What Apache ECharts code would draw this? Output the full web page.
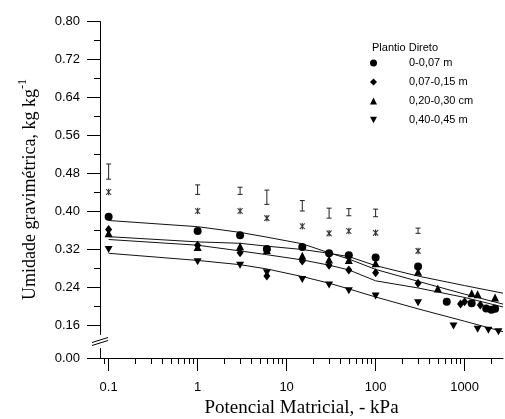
<!DOCTYPE html>
<html><head><meta charset="utf-8">
<script src="https://cdn.jsdelivr.net/npm/echarts@6/dist/echarts.min.js"></script>
<style>html,body{margin:0;padding:0;background:#fff}#c{width:505px;height:419px}</style>
</head><body><div id="c"></div>
<script>
// ---- data ----
const seriesNames = ['0-0,07 m', '0,07-0,15 m', '0,20-0,30 cm', '0,40-0,45 m'];
const circleData = [[0.1,0.388],[1,0.358],[3,0.349],[6,0.320],[15,0.324],[30,0.311],[50,0.307],[100,0.302],[300,0.283],[630,0.209],[1200,0.206],[1750,0.195],[2000,0.192],[2200,0.194]];
const diamondData = [[0.1,0.361],[1,0.328],[3,0.312],[6,0.263],[15,0.295],[30,0.286],[50,0.276],[100,0.270],[300,0.248],[900,0.204],[1000,0.209],[1500,0.202]];
const triangleData = [[0.1,0.353],[1,0.324],[3,0.326],[6,0.318],[15,0.306],[30,0.298],[50,0.297],[100,0.290],[300,0.272],[500,0.237],[1200,0.227],[1400,0.225],[2200,0.218]];
const downData = [[0.1,0.319],[1,0.293],[3,0.286],[6,0.270],[15,0.256],[30,0.244],[50,0.232],[100,0.221],[300,0.207],[750,0.158],[1400,0.151],[1850,0.149],[2400,0.146]];

const curveP = [0.1, 1, 3, 6, 15, 30, 50, 100, 300, 1000, 2700];
const curveCircle   = [0.380,0.367,0.355,0.345,0.331,0.312,0.299,0.277,0.252,0.225,0.204];
const curveDiamond  = [0.340,0.328,0.316,0.308,0.297,0.286,0.276,0.253,0.238,0.218,0.198];
const curveTriangle = [0.346,0.335,0.332,0.326,0.319,0.311,0.304,0.285,0.263,0.243,0.227];
const curveDown     = [0.311,0.296,0.287,0.278,0.262,0.248,0.236,0.219,0.194,0.168,0.146];

const sigP = [0.1, 1, 3, 6, 15, 30, 50, 100, 300];
const starVals = [0.440,0.400,0.400,0.385,0.368,0.353,0.358,0.354,0.316];
const barLow  = [0.467,0.435,0.435,0.414,0.400,0.385,0.390,0.388,0.353];
const barHigh = [0.499,0.455,0.450,0.444,0.422,0.406,0.405,0.404,0.364];

const xMajor = [0.1, 1, 10, 100, 1000];
const xMinor = [0.09,0.2,0.3,0.4,0.5,0.6,0.7,0.8,0.9,2,3,4,5,6,7,8,9,20,30,40,50,60,70,80,90,200,300,400,500,600,700,800,900,2000];
const yMajor = [0, 0.16, 0.24, 0.32, 0.40, 0.48, 0.56, 0.64, 0.72, 0.80];
const yMinor = [0.20, 0.28, 0.36, 0.44, 0.52, 0.60, 0.68, 0.76];

// ---- chart ----
const sans = "'Liberation Sans', Arial, sans-serif";
const serif = "'Liberation Serif', 'Times New Roman', serif";
const chart = echarts.init(document.getElementById('c'), null, {renderer:'canvas'});
const fmtX = v => String(Number(Number(v).toPrecision(6)));
const fmtY = v => Number(v).toFixed(2);
const zip = (xs, ys) => xs.map((x, i) => [x, ys[i]]);
const downTri = 'path://M0,0L10,0L5,9Z';
const star = 'path://M-0.6,-5L-0.6,5L0.6,5L0.6,-5Z M1.98,4.72L3.02,4.12L-1.98,-4.72L-3.02,-4.12Z M-3.02,4.12L-1.98,4.72L3.02,-4.12L1.98,-4.72Z';
const black = '#000';
const yBreaks = [{start:0.02, end:0.14, gap:'4.15%'}];
const lineSeries = (data) => ({type:'line', data, showSymbol:false, symbol:'none', smooth:false,
  lineStyle:{color:'#111', width:1}, z:2, silent:true});
const scatter = (name, data, symbol, size) => ({type:'scatter', name, data, symbol, symbolSize:size,
  itemStyle:{color:black, opacity:1}, z:5});

chart.setOption({
  animation:false,
  grid:{left:100, right:2, top:21, bottom:61, containLabel:false, outerBoundsMode:'none'},
  title:{text:'Plantio Direto', left:372, top:42, padding:0,
    textStyle:{fontSize:11, fontWeight:'normal', fontFamily:sans, color:black}},
  legend:{orient:'vertical', left:370, top:57, padding:0, itemWidth:7, itemHeight:7, itemGap:7,
    data:seriesNames, selectedMode:false,
    textStyle:{fontSize:11, fontFamily:sans, color:black, padding:[0,0,0,27], lineHeight:12}},
  xAxis:[{
    type:'log', logBase:10, min:0.08, max:2700,
    axisLine:{show:true, lineStyle:{color:black, width:1}},
    axisTick:{show:true, customValues:xMajor, length:13, lineStyle:{color:black}},
    axisLabel:{show:true, customValues:xMajor, formatter:fmtX, margin:23, fontSize:13, color:black, fontFamily:sans},
    splitLine:{show:false}, minorTick:{show:false},
    name:'Potencial Matricial, - kPa', nameLocation:'middle', nameGap:40,
    nameTextStyle:{fontSize:19, fontFamily:serif, color:black}
  },{
    type:'log', logBase:10, min:0.08, max:2700, position:'bottom',
    axisLine:{show:false},
    axisTick:{show:true, customValues:xMinor, length:6, lineStyle:{color:black}},
    axisLabel:{show:false}, splitLine:{show:false}
  }],
  yAxis:[{
    type:'value', min:0, max:0.8, interval:0.08,
    breaks:yBreaks,
    breakArea:{show:false, expandOnClick:false},
    axisLine:{show:true, lineStyle:{color:black, width:1}},
    axisTick:{show:true, customValues:yMajor, length:13, lineStyle:{color:black}},
    minorTick:{show:false},
    axisLabel:{customValues:yMajor, formatter:fmtY, margin:20, fontSize:13, color:black, fontFamily:sans},
    splitLine:{show:false},
    name:'{a|Umidade gravimétrica, kg kg}{s|-1}', nameLocation:'middle', nameGap:61, nameRotate:90,
    nameTextStyle:{rich:{
      a:{fontSize:18, fontFamily:serif, color:black, lineHeight:22, verticalAlign:'bottom'},
      s:{fontSize:12, fontFamily:serif, color:black, lineHeight:22, verticalAlign:'top'}
    }}
  },{
    type:'value', min:0, max:0.8, interval:0.08, position:'left',
    breaks:yBreaks,
    breakArea:{show:false, expandOnClick:false},
    axisLine:{show:false},
    axisTick:{show:true, customValues:yMinor, length:6, lineStyle:{color:black}},
    axisLabel:{show:false}, splitLine:{show:false}
  }],
  series:[
    lineSeries(zip(curveP, curveCircle)),
    lineSeries(zip(curveP, curveDiamond)),
    lineSeries(zip(curveP, curveTriangle)),
    lineSeries(zip(curveP, curveDown)),
    scatter(seriesNames[0], circleData, 'circle', 8),
    scatter(seriesNames[1], diamondData, 'diamond', [7,9]),
    scatter(seriesNames[2], triangleData, 'triangle', 8),
    scatter(seriesNames[3], downData, downTri, [8,7]),
    {type:'scatter', name:'stars', data:zip(sigP, starVals), symbol:star, symbolSize:[6,6.5],
      itemStyle:{color:'#000'}, z:4, silent:true},
    {type:'custom', name:'lsd', data:sigP.map((p,i)=>[p, barLow[i], barHigh[i]]),
      encode:{x:0, y:[1,2]}, z:4, silent:true,
      renderItem:(params, api) => {
        const lo = api.coord([api.value(0), api.value(1)]);
        const hi = api.coord([api.value(0), api.value(2)]);
        const w = 2.5, st = {stroke:'#222', lineWidth:1};
        return {type:'group', children:[
          {type:'line', shape:{x1:lo[0], y1:lo[1], x2:hi[0], y2:hi[1]}, style:st},
          {type:'line', shape:{x1:lo[0]-w, y1:lo[1], x2:lo[0]+w, y2:lo[1]}, style:st},
          {type:'line', shape:{x1:hi[0]-w, y1:hi[1], x2:hi[0]+w, y2:hi[1]}, style:st}
        ]};
      }}
  ]
});

// axis-break marker "//" drawn between 0.16 and 0.00 ticks
const y16 = chart.convertToPixel({yAxisIndex:0}, 0.16);
const y00 = chart.convertToPixel({yAxisIndex:0}, 0);
const ym = (y16 + y00) / 2;
const ax = 100;
chart.setOption({graphic:[
  {type:'line', shape:{x1:ax-8, y1:ym+1, x2:ax+8, y2:ym-4}, style:{stroke:black, lineWidth:1}},
  {type:'line', shape:{x1:ax-8, y1:ym+4, x2:ax+8, y2:ym-1}, style:{stroke:black, lineWidth:1}}
]});
</script></body></html>
